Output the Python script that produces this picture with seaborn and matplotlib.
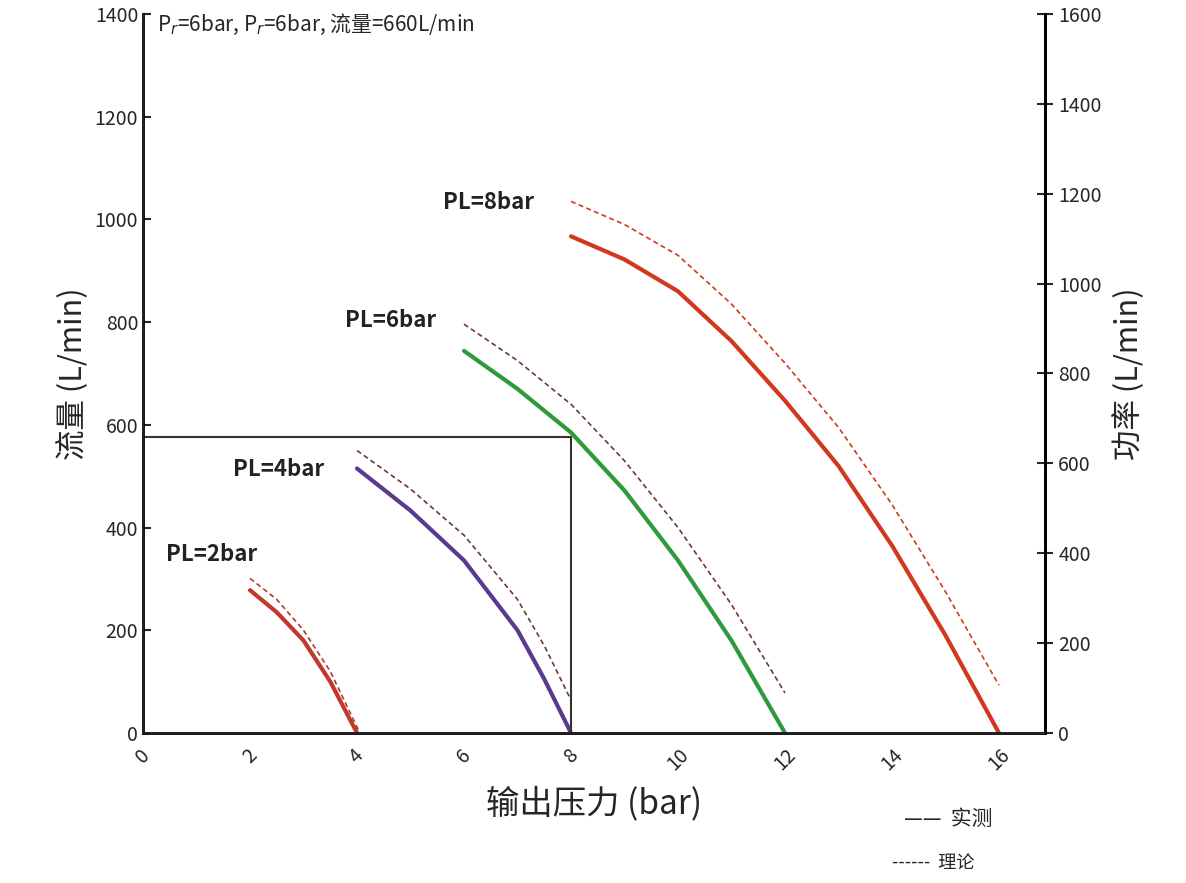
import numpy as np
import matplotlib
matplotlib.use("Agg")
import matplotlib.pyplot as plt
import seaborn as sns

# flow curves, left axis units (L/min) vs outlet pressure (bar)
pl_labels = ["PL=2bar", "PL=4bar", "PL=6bar", "PL=8bar"]
solid_x = [[2, 2.5, 3, 3.5, 4],
           [4, 5, 6, 7, 7.5, 8],
           [6, 7, 8, 9, 10, 11, 12],
           [8, 9, 10, 11, 12, 13, 14, 15, 16]]
solid_y = [[278, 235, 180, 100, 0],
           [515, 433, 336, 200, 105, 0],
           [744, 670, 585, 472, 336, 180, 0],
           [967, 922, 860, 763, 647, 520, 365, 190, 0]]
dash_x = [[2, 2.5, 3, 3.5, 4.03],
          [4, 5, 6, 7, 7.5, 8],
          [6, 7, 8, 9, 10, 11, 12],
          [8, 9, 10, 11, 12, 13, 14, 15, 16]]
dash_y = [[301, 260, 200, 120, 5],
          [550, 475, 385, 260, 170, 64],
          [796, 725, 640, 530, 400, 250, 78],
          [1035, 990, 930, 835, 720, 595, 445, 275, 93]]
colors = ["#c0392b", "#5a3a8e", "#2f9a3c", "#d2381f"]
dash_colors = ["#b03a2a", "#6b3a30", "#6b3a30", "#d2381f"]
label_pos = [(0.42, 335), (1.68, 500), (3.78, 790), (5.6, 1020)]

x_ticks = [0, 2, 4, 6, 8, 10, 12, 14, 16]
y_ticks = [0, 200, 400, 600, 800, 1000, 1200, 1400]
y2_ticks = [0, 200, 400, 600, 800, 1000, 1200, 1400, 1600]

sns.set_theme(style="white")
plt.rcParams['font.family'] = ['Noto Sans CJK SC', 'DejaVu Sans']

fig = plt.figure(figsize=(11.86, 8.83), dpi=100)
ax = fig.add_axes([0.1206, 0.1699, 0.7605, 0.8143])
for i in range(4):
    sns.lineplot(x=solid_x[i], y=solid_y[i], ax=ax, color=colors[i], lw=3)
    sns.lineplot(x=dash_x[i], y=dash_y[i], ax=ax, color=dash_colors[i], lw=1.2, linestyle=(0, (3, 2)))
    ax.text(*label_pos[i], pl_labels[i], fontsize=16, fontweight='heavy', color='#222222')

# operating point box
ax.plot([0, 8, 8], [577, 577, 0], color='#333333', lw=1.5)

ax.set_xlim(0, 16.86)
ax.set_ylim(0, 1400)
ax.set_xticks(x_ticks)
ax.set_xticklabels([str(v) for v in x_ticks], rotation=45, fontsize=14)
ax.set_yticks(y_ticks)
ax.tick_params(axis='y', labelsize=14, direction='in', length=6, width=1.5)
ax.tick_params(axis='x', direction='inout', length=10, width=1.5)
ax.set_xticks(np.arange(0, 17, 1), minor=True)
ax.tick_params(axis='x', which='minor', direction='in', length=5, width=1.2)
for s in ['left', 'bottom', 'right']:
    ax.spines[s].set_color('black')
    ax.spines[s].set_linewidth(2)
ax.spines['top'].set_visible(False)
ax.set_ylabel("流量 (L/min)", fontsize=22, labelpad=4)
ax.set_xlabel("输出压力 (bar)", fontsize=24, labelpad=8)

ax2 = ax.twinx()
ax2.set_ylim(0, 1600)
ax2.set_yticks(y2_ticks)
ax2.tick_params(axis='y', labelsize=14, direction='inout', length=12, width=1.5)
ax2.spines['top'].set_visible(False)
ax2.spines['right'].set_linewidth(2)
ax2.spines['right'].set_color('black')
ax2.set_ylabel("功率 (L/min)", fontsize=22, labelpad=8)

fig.text(0.132, 0.972, "P$_r$=6bar, P$_r$=6bar, 流量=660L/min", fontsize=15, va='center')
fig.text(0.762, 0.072, "——  实测", fontsize=15, va='center')
fig.text(0.752, 0.022, "------  理论", fontsize=13, va='center')

fig.savefig("out.png", dpi=100)
